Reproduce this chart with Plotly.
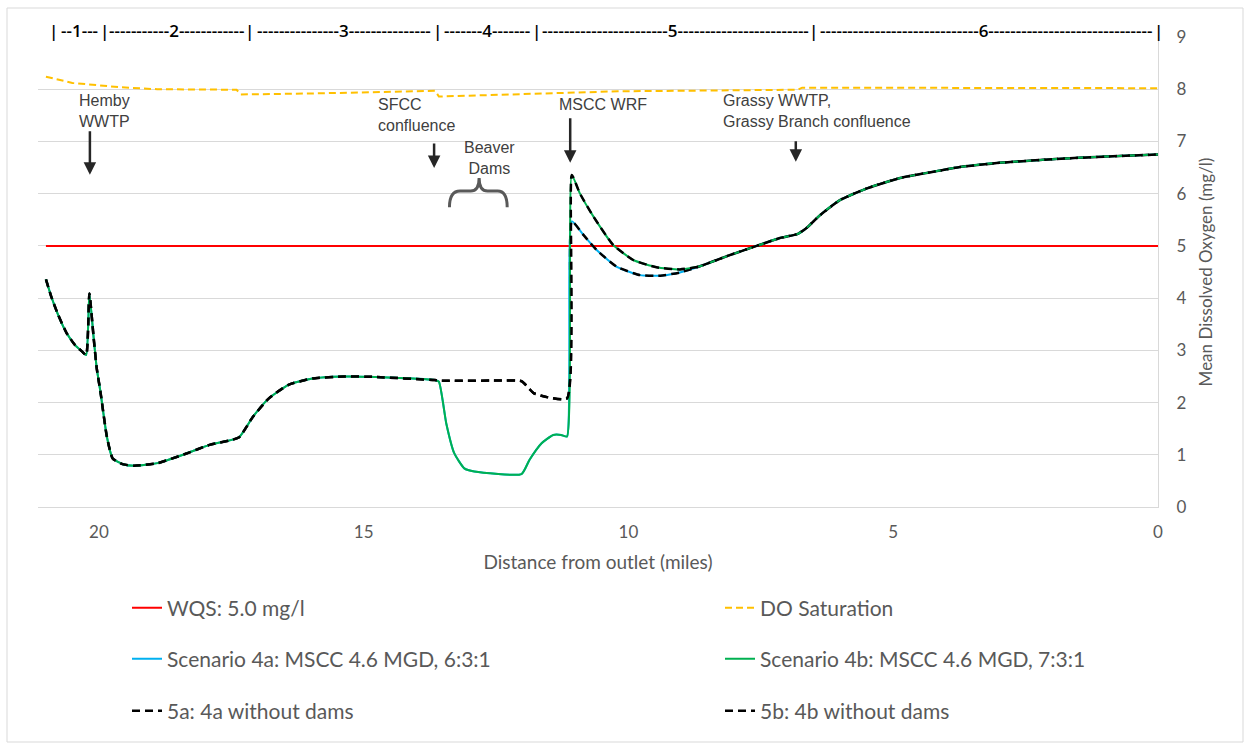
import plotly.graph_objects as go

# ---------------- data ----------------
# WQS standard
wqs_x = [21.0, 0.0]
wqs_y = [5.0, 5.0]

# DO saturation
sat_x = [21.0, 20.5, 19.63, 18.9, 17.4, 17.32, 15.9, 13.65, 13.58, 12.16, 10.2, 6.8, 6.72, 0.0]
sat_y = [8.24, 8.12, 8.04, 8.0, 7.99, 7.90, 7.92, 7.97, 7.86, 7.90, 7.96, 7.99, 8.03, 8.02]

# shared upstream reach (all scenarios)
up_x = [21.0, 20.9, 20.77, 20.61, 20.45, 20.32, 20.24, 20.18, 20.1, 20.04, 19.97, 19.85,
        19.74, 19.55, 19.33, 18.89, 18.36, 17.91, 17.36, 17.09, 16.79, 16.42, 15.97,
        15.37, 14.78, 13.66]
up_y = [4.36, 4.03, 3.68, 3.33, 3.10, 2.98, 2.91, 4.09, 3.25, 2.65, 2.20, 1.35,
        0.93, 0.82, 0.79, 0.84, 1.02, 1.19, 1.33, 1.73, 2.08, 2.34, 2.46,
        2.50, 2.49, 2.43]

# beaver dam reach, with dams (scenarios 4a / 4b)
dam_x = [13.58, 13.44, 13.29, 13.1, 12.91, 12.02, 11.87, 11.64, 11.42, 11.27, 11.16]
dam_y = [2.40, 1.60, 1.03, 0.74, 0.68, 0.63, 0.90, 1.22, 1.38, 1.38, 1.35]

# beaver dam reach, without dams (scenarios 5a / 5b)
nodam_x = [13.58, 12.5, 12.02, 11.87, 11.79, 11.57, 11.16]
nodam_y = [2.42, 2.42, 2.41, 2.26, 2.18, 2.11, 2.08]

# below MSCC WRF, 6:3:1 effluent (4a / 5a)
post_a_x = [11.07, 10.85, 10.6, 10.22, 9.78, 9.4, 9.03, 8.65]
post_a_y = [5.47, 5.21, 4.92, 4.60, 4.44, 4.43, 4.49, 4.61]

# below MSCC WRF, 7:3:1 effluent (4b / 5b)
post_b_x = [11.07, 10.92, 10.66, 10.29, 9.91, 9.47, 9.03, 8.65]
post_b_y = [6.36, 6.01, 5.56, 5.02, 4.73, 4.59, 4.55, 4.61]

# shared downstream reach
down_x = [8.15, 7.58, 7.14, 6.8, 6.64, 6.38, 6.0, 5.5, 4.87, 4.24, 3.74, 3.0, 2.0, 1.0, 0.0]
down_y = [4.80, 5.00, 5.15, 5.23, 5.34, 5.59, 5.88, 6.10, 6.30, 6.42, 6.51, 6.59, 6.66, 6.71, 6.75]

# segment bounds (miles) and names
seg_bounds = [20.85, 19.89, 17.15, 13.6, 11.73, 6.5, 0.0]
seg_names = ["1", "2", "3", "4", "5", "6"]

x_ticks = [20, 15, 10, 5, 0]

# ---------------- figure ----------------
FONT = "Lato"
GRAY = "#595959"

s4a_x = up_x + dam_x + post_a_x + down_x
s4a_y = up_y + dam_y + post_a_y + down_y
s4b_x = up_x + dam_x + post_b_x + down_x
s4b_y = up_y + dam_y + post_b_y + down_y
s5a_x = up_x + nodam_x + post_a_x + down_x
s5a_y = up_y + nodam_y + post_a_y + down_y
s5b_x = up_x + nodam_x + post_b_x + down_x
s5b_y = up_y + nodam_y + post_b_y + down_y

fig = go.Figure()
# drawing order: 5a beneath the green line so shared reaches show one dash pattern
series = [
    ("WQS: 5.0 mg/l", wqs_x, wqs_y, "#FF0000", "solid", 2, "legend", "linear"),
    ("DO Saturation", sat_x, sat_y, "#FFC000", "7px,4px", 2, "legend2", "linear"),
    ("Scenario 4a: MSCC 4.6 MGD, 6:3:1", s4a_x, s4a_y, "#00B0F0", "solid", 2, "legend3", "spline"),
    ("5a: 4a without dams", s5a_x, s5a_y, "#000000", "8px,5px", 2.5, "legend5", "spline"),
    ("Scenario 4b: MSCC 4.6 MGD, 7:3:1", s4b_x, s4b_y, "#00B050", "solid", 2, "legend4", "spline"),
    ("5b: 4b without dams", s5b_x, s5b_y, "#000000", "8px,5px", 2.5, "legend6", "spline"),
]
for name, xs, ys, col, dash, w, lg, shp in series:
    line = dict(color=col, dash=dash, width=w, shape=shp)
    if shp == "spline":
        line["smoothing"] = 0.5
    fig.add_trace(go.Scatter(x=xs, y=ys, mode="lines", name=name, line=line,
                             legend=lg, hoverinfo="skip"))

W, H = 1247, 743
L, R, T, B = 38, 89, 37, 236
plot_w = W - L - R
plot_h = H - T - B
px_per_mile = plot_w / 21.15

# legends: 3 rows x 2 columns
leg_rows = [608, 659, 711]
leg_cols = [127, 720]
layout_legends = {}
names = ["legend", "legend2", "legend3", "legend4", "legend5", "legend6"]
for i, ln in enumerate(names):
    r, c = divmod(i, 2)
    layout_legends[ln] = dict(
        xref="container", yref="container",
        x=leg_cols[c] / W, y=1 - leg_rows[r] / H,
        xanchor="left", yanchor="middle",
        orientation="h", font=dict(family=FONT, size=21, color=GRAY),
        bgcolor="rgba(0,0,0,0)", borderwidth=0,
    )

annotations = []
ANN_FONT = dict(family="Liberation Sans", size=16, color="#404040")
# text labels
for txt, xx, yy, anchor in [
    ("Hemby<br>WWTP", 20.42, 7.98, "left"),
    ("SFCC<br>confluence", 14.76, 7.91, "left"),
    ("Beaver<br>Dams", 12.62, 7.09, "center"),
    ("MSCC WRF", 11.34, 7.91, "left"),
    ("Grassy WWTP,<br>Grassy Branch confluence", 8.26, 7.98, "left"),
]:
    annotations.append(dict(x=xx, y=yy, xref="x", yref="y", text=txt, showarrow=False,
                            xanchor=anchor, yanchor="top", align=anchor, font=ANN_FONT))
# arrows
for xx, yy, ay in [(20.17, 6.36, -45), (13.67, 6.49, -26), (11.10, 6.59, -46), (6.84, 6.61, -22)]:
    annotations.append(dict(x=xx, y=yy, xref="x", yref="y", text="", showarrow=True,
                            ax=0, ay=ay, arrowhead=2, arrowsize=1, arrowwidth=2.5,
                            arrowcolor="#262626", standoff=0))

# segment labels along top (paper y so they sit above the plot area)
SEG_SIZE = 17
HYPH = 0.322 * SEG_SIZE
DIGIT = 0.572 * SEG_SIZE
SEG_FONT = dict(family="Open Sans", size=SEG_SIZE, color="#000000", weight=600)
seg_y = (507 - 30) / plot_h
for i, nm in enumerate(seg_names):
    a, b = seg_bounds[i], seg_bounds[i + 1]
    wpx = (a - b) * px_per_mile - 9
    n = max(2, int((wpx - DIGIT) / HYPH))
    txt = "-" * (n // 2) + nm + "-" * (n - n // 2)
    annotations.append(dict(x=(a + b) / 2, y=seg_y, xref="x", yref="paper", text=txt,
                            showarrow=False, xanchor="center", yanchor="middle", font=SEG_FONT))
for bnd in seg_bounds:
    annotations.append(dict(x=bnd, y=seg_y, xref="x", yref="paper", text="|",
                            showarrow=False, xanchor="center", yanchor="middle", font=SEG_FONT))

shapes = [
    # beaver dam bracket
    dict(type="path", xref="x", yref="y",
         path="M 13.38,5.74 Q 13.38,6.05 13.18,6.05 L 12.98,6.05 Q 12.82,6.05 12.82,6.30 "
              "Q 12.82,6.05 12.66,6.05 L 12.47,6.05 Q 12.29,6.05 12.29,5.74",
         line=dict(color=GRAY, width=3)),
    # outer chart border
    dict(type="rect", xref="paper", yref="paper",
         x0=(7 - L) / plot_w, x1=(1243 - L) / plot_w,
         y0=(507 - 742) / plot_h, y1=(507 - 8) / plot_h,
         line=dict(color="#D9D9D9", width=1), layer="below"),
]

fig.update_layout(
    width=W, height=H,
    margin=dict(l=L, r=R, t=T, b=B),
    paper_bgcolor="white", plot_bgcolor="white",
    showlegend=True,
    xaxis=dict(range=[21.15, 0], tickvals=x_ticks, showgrid=False, zeroline=False,
               showline=True, linecolor="#D9D9D9", linewidth=1, ticks="",
               ticklabelstandoff=10,
               tickfont=dict(family=FONT, size=17, color=GRAY),
               title=dict(text="Distance from outlet (miles)", standoff=14,
                          font=dict(family=FONT, size=19, color=GRAY))),
    yaxis=dict(range=[0, 9], dtick=1, side="right", showgrid=True, gridcolor="#D9D9D9",
               zeroline=False, showline=True, linecolor="#D9D9D9", linewidth=1, ticks="",
               ticklabelstandoff=14,
               tickfont=dict(family=FONT, size=17, color=GRAY),
               title=dict(text="Mean Dissolved Oxygen (mg/l)", standoff=14,
                          font=dict(family=FONT, size=17, color=GRAY))),
    annotations=annotations,
    shapes=shapes,
    **layout_legends,
)

fig.write_html("out.html")
